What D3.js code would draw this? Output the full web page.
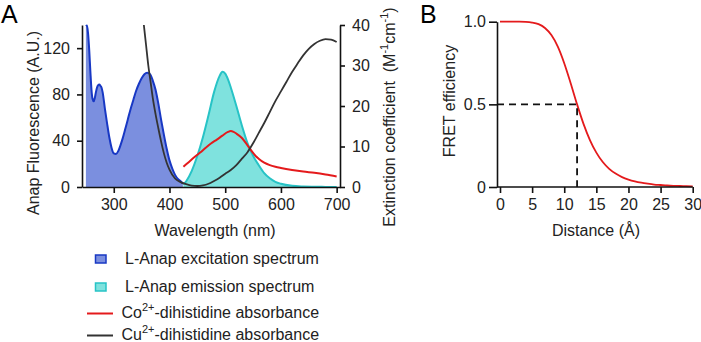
<!DOCTYPE html>
<html>
<head>
<meta charset="utf-8">
<script src="https://cdn.jsdelivr.net/npm/d3@7"></script>
<style>
  body { margin: 0; background: #fff; }
  svg { font-family: "Liberation Sans", Arial, sans-serif; }
  .axis path, .axis line { stroke: #111; stroke-width: 1.6; }
  .axis text { font-size: 16px; fill: #222; }
  .title { font-size: 16px; fill: #222; }
</style>
</head>
<body>
<svg id="fig" width="701" height="342"></svg>
<script>
// L-Anap excitation spectrum (A.U.)
const exWl = [250, 252, 254, 256, 258, 260, 262, 264, 266, 268, 270, 272, 274, 276, 278, 280, 284, 288, 292, 296,
  300, 304, 308, 312, 316, 320, 325, 330, 335, 340, 345, 350, 355, 360, 365, 370, 375, 380, 385, 390, 395, 400,
  405, 410, 415, 420, 424];
const exVal = [139, 139.5, 132, 118, 100, 84, 76, 74, 77, 82, 86, 88, 88.5, 87.5, 86, 82, 68, 55, 43, 34,
  29, 28.5, 31, 36, 42, 49, 58, 67, 75, 83, 89, 94, 97.5, 98.8, 97.5, 92, 84, 72, 58, 45, 33, 23,
  16, 10.5, 7, 5, 3];

// L-Anap emission spectrum (A.U.)
const emWl = [425, 430, 440, 450, 460, 470, 480, 490, 495, 500, 505, 510, 520, 530, 540, 550, 560, 570, 580, 590,
  600, 620, 640, 660, 680, 700];
const emVal = [2, 5, 14, 27, 43, 62, 82, 96, 99.5, 98, 93, 86, 70, 53, 38, 27, 19, 12, 7.5, 4.5,
  2.8, 1, 0.4, 0.2, 0.1, 0];

// Co2+-dihistidine absorbance (M-1 cm-1)
const coWl = [425, 435, 445, 455, 465, 475, 485, 495, 505, 510, 515, 520, 530, 540, 550, 555, 560, 570, 580, 590,
  600, 620, 640, 660, 680, 700];
const coVal = [5.0, 6.2, 7.4, 8.5, 9.7, 10.8, 11.7, 12.7, 13.6, 13.8, 13.6, 13.2, 12.1, 10.3, 8.4, 7.6, 7.0, 6.0, 5.4, 5.0,
  4.7, 4.2, 3.8, 3.5, 3.1, 2.6];

// Cu2+-dihistidine absorbance (M-1 cm-1)
const cuWl = [354, 358, 362, 366, 370, 375, 380, 385, 390, 395, 400, 410, 420, 430, 440, 450, 460, 470, 480, 490,
  500, 510, 520, 530, 540, 550, 560, 570, 580, 590, 600, 610, 620, 630, 640, 650, 660, 670, 680, 690, 700];
const cuVal = [40, 35, 30, 26, 22, 18, 14.5, 11.2, 8.3, 6.0, 4.3, 2.1, 1.2, 0.7, 0.35, 0.25, 0.4, 0.8, 1.5, 2.3,
  3.3, 4.2, 5.4, 7.0, 8.6, 10.8, 13.3, 15.8, 18.5, 21.2, 23.6, 26, 28.4, 30.5, 32.5, 34.1, 35.3, 36.1, 36.5, 36.4, 35.8];

// FRET efficiency vs donor-acceptor distance (Å)
const distA = [0, 1, 2, 3, 4, 5, 6, 7, 8, 9, 10, 11, 12, 13, 14, 15, 16, 17, 18, 19, 20, 21, 22, 23, 24, 25, 26, 27, 28, 29, 30];
const fretE = [1, 1, 1, 1, 0.999, 0.995, 0.985, 0.962, 0.919, 0.849, 0.749, 0.628, 0.5, 0.382, 0.284, 0.208, 0.151,
  0.110, 0.081, 0.060, 0.045, 0.034, 0.026, 0.020, 0.015, 0.012, 0.009, 0.007, 0.006, 0.005, 0.004];
const r0 = 12;
const r0E = 0.5;

const wlTicks = [300, 400, 500, 600, 700];
const fluorTicks = [0, 40, 80, 120];
const extTicks = [0, 10, 20, 30, 40];
const distTicks = [0, 5, 10, 15, 20, 25, 30];
const effTicks = [0, 0.5, 1];

const legendItems = [
  { kind: 'box', fill: '#7b8fdf', stroke: '#1838c4', label: 'L-Anap excitation spectrum' },
  { kind: 'box', fill: '#7fe2de', stroke: '#27c3c6', label: 'L-Anap emission spectrum' },
  { kind: 'line', stroke: '#e41a1c', ion: 'Co', label: '-dihistidine absorbance' },
  { kind: 'line', stroke: '#333', ion: 'Cu', label: '-dihistidine absorbance' }
];

const svg = d3.select('#fig');
const zip = (xs, ys) => xs.map((x, i) => [x, ys[i]]);

// ---- panel A ----
const x = d3.scaleLinear().domain([243, 706]).range([82, 340]);
const yL = d3.scaleLinear().domain([0, 140]).range([187, 25]);
const yR = d3.scaleLinear().domain([0, 40]).range([187, 25]);

const a = svg.append('g');

a.append('defs').append('clipPath').attr('id', 'clipA')
  .append('rect').attr('x', 82).attr('y', 23).attr('width', 258).attr('height', 164);

const plotA = a.append('g').attr('clip-path', 'url(#clipA)');

const area = d3.area().x(d => x(d[0])).y0(yL(0)).y1(d => yL(d[1])).curve(d3.curveMonotoneX);
const lineL = d3.line().x(d => x(d[0])).y(d => yL(d[1])).curve(d3.curveMonotoneX);
const lineR = d3.line().x(d => x(d[0])).y(d => yR(d[1])).curve(d3.curveMonotoneX);

plotA.append('path').datum(zip(exWl, exVal)).attr('d', area).attr('fill', '#7b8fdf');
plotA.append('path').datum(zip(exWl, exVal)).attr('d', lineL)
  .attr('fill', 'none').attr('stroke', '#1838c4').attr('stroke-width', 2);
plotA.append('path').datum(zip(emWl, emVal)).attr('d', area).attr('fill', '#7fe2de');
plotA.append('path').datum(zip(emWl, emVal)).attr('d', lineL)
  .attr('fill', 'none').attr('stroke', '#27c3c6').attr('stroke-width', 2);
plotA.append('path').datum(zip(coWl, coVal)).attr('d', lineR)
  .attr('fill', 'none').attr('stroke', '#e41a1c').attr('stroke-width', 2);
plotA.append('path').datum(zip(cuWl, cuVal)).attr('d', lineR)
  .attr('fill', 'none').attr('stroke', '#333').attr('stroke-width', 1.8);

a.append('g').attr('class', 'axis').attr('transform', 'translate(0,187)')
  .call(d3.axisBottom(x).tickValues(wlTicks).tickSize(6).tickSizeOuter(0).tickPadding(6));
a.append('g').attr('class', 'axis').attr('transform', 'translate(82,0)')
  .call(d3.axisLeft(yL).tickValues(fluorTicks).tickSize(5).tickSizeOuter(0).tickPadding(7));
a.append('g').attr('class', 'axis').attr('transform', 'translate(340,0)')
  .call(d3.axisRight(yR).tickValues(extTicks).tickSize(5).tickSizeOuter(0).tickPadding(7));

a.append('text').attr('class', 'title').attr('x', 215).attr('y', 236)
  .attr('text-anchor', 'middle').text('Wavelength (nm)');
a.append('text').attr('class', 'title').attr('transform', 'translate(39,123) rotate(-90)')
  .attr('text-anchor', 'middle').text('Anap Fluorescence (A.U.)');

const ext = a.append('text').attr('class', 'title').attr('transform', 'translate(395,117) rotate(-90)')
  .attr('text-anchor', 'middle');
ext.append('tspan').text('Extinction coefficient\u00a0\u00a0(M');
ext.append('tspan').attr('dy', -7).style('font-size', '11px').text('-1');
ext.append('tspan').attr('dy', 7).text('cm');
ext.append('tspan').attr('dy', -7).style('font-size', '11px').text('-1');
ext.append('tspan').attr('dy', 7).text(')');

a.append('text').attr('x', 1).attr('y', 23).style('font-size', '25px').text('A');

// legend
const leg = a.append('g');
legendItems.forEach((d, i) => {
  const cy = [259, 287, 313.5, 335.5][i];
  if (d.kind === 'box') {
    leg.append('rect').attr('x', 95.5).attr('y', cy - 4).attr('width', 10.5).attr('height', 8)
      .attr('fill', d.fill).attr('stroke', d.stroke).attr('stroke-width', 1.5);
    leg.append('text').attr('class', 'title').attr('x', 125).attr('y', cy + 4.5).text(d.label);
  } else {
    leg.append('line').attr('x1', 87).attr('x2', 113).attr('y1', cy).attr('y2', cy)
      .attr('stroke', d.stroke).attr('stroke-width', 2);
    const t = leg.append('text').attr('class', 'title').attr('x', 121.5).attr('y', cy + 4);
    t.append('tspan').text(d.ion);
    t.append('tspan').attr('dy', -7).style('font-size', '11px').text('2+');
    t.append('tspan').attr('dy', 7).text(d.label);
  }
});

// ---- panel B ----
const xB = d3.scaleLinear().domain([0, 30]).range([500, 692.7]);
const yB = d3.scaleLinear().domain([0, 1]).range([187, 21.7]);
const b = svg.append('g');

b.append('path').datum(zip(distA, fretE))
  .attr('d', d3.line().x(d => xB(d[0])).y(d => yB(d[1])).curve(d3.curveMonotoneX))
  .attr('fill', 'none').attr('stroke', '#e41a1c').attr('stroke-width', 1.8);

b.append('path')
  .attr('d', `M497,${yB(r0E)}H${xB(r0)}V${yB(0)}`)
  .attr('fill', 'none').attr('stroke', '#111').attr('stroke-width', 1.8)
  .attr('stroke-dasharray', '7,5');

const xAxB = b.append('g').attr('class', 'axis').attr('transform', 'translate(0,187)')
  .call(d3.axisBottom(xB).tickValues(distTicks).tickSize(6).tickSizeOuter(0).tickPadding(6));
xAxB.select('.domain').attr('d', `M497,0H${xB(30)}`);
b.append('g').attr('class', 'axis').attr('transform', 'translate(497,0)')
  .call(d3.axisLeft(yB).tickValues(effTicks).tickSize(8).tickSizeOuter(0).tickPadding(3)
    .tickFormat(d => d === 0 ? '0' : d3.format('.1f')(d)));

b.append('text').attr('class', 'title').attr('x', 596).attr('y', 236)
  .attr('text-anchor', 'middle').text('Distance (Å)');
b.append('text').attr('class', 'title').attr('transform', 'translate(455,101) rotate(-90)')
  .attr('text-anchor', 'middle').text('FRET efficiency');
b.append('text').attr('x', 420).attr('y', 23).style('font-size', '25px').text('B');
</script>
</body>
</html>
